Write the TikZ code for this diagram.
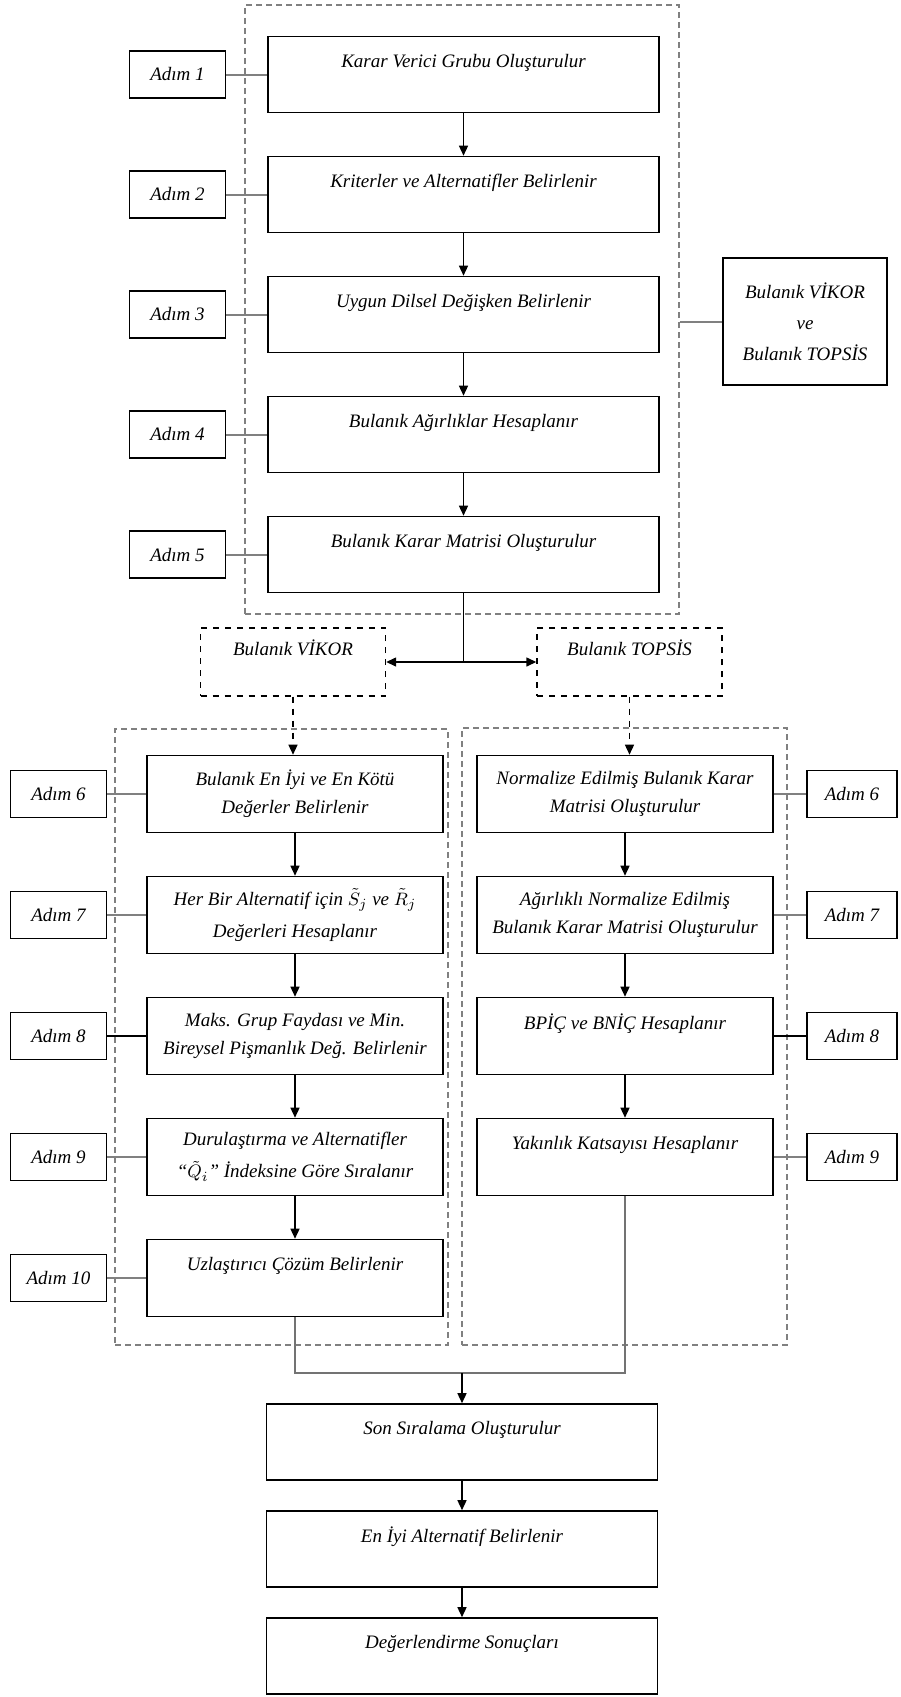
\documentclass[tikz,border=0pt]{standalone}
\usepackage{fontspec}
\setmainfont{Liberation Serif}
\usepackage{amsmath}
\usetikzlibrary{positioning,arrows.meta}

\begin{document}
\begin{tikzpicture}[x=0.5pt, y=-0.5pt, thick,
    every node/.style={font=\fontsize{9.5}{14}\selectfont\itshape, align=center},
    main/.style={draw, line width=0.8pt, minimum width=195.5pt, minimum height=38pt},
    colbox/.style={draw, line width=0.8pt, minimum width=148pt, minimum height=38.5pt},
    adim/.style={draw, line width=0.8pt, minimum width=48pt, minimum height=23.5pt},
    method/.style={draw, dashed, line width=0.7pt, minimum width=92.5pt, minimum height=34pt},
    group/.style={draw=black!50, dash pattern=on 3pt off 2pt, line width=0.7pt},
    arr/.style={-{Triangle[length=5pt,width=4.5pt]}, line width=0.7pt},
    link/.style={draw=black!50, line width=1pt},
    merge/.style={draw=black!55, line width=0.7pt}]
    \useasboundingbox (0,0) rectangle (900,1697);

    % dashed groups
    \node[group, minimum width=217pt, minimum height=304.5pt] (grpTop) at (462,309.5) {};
    \node[group, minimum width=166.5pt, minimum height=308pt] (grpVikor) at (281.5,1037) {};
    \node[group, minimum width=162.5pt, minimum height=308.5pt] (grpTopsis) at (624.5,1036.5) {};

    % common steps
    \node[main] (b1) at (463.5,74.5) {Karar Verici Grubu Oluşturulur\\ \mbox{}};
    \node[main] (b2) [below of=b1, node distance=60pt] {Kriterler ve Alternatifler Belirlenir\\ \mbox{}};
    \node[main] (b3) [below of=b2, node distance=60pt] {Uygun Dilsel Değişken Belirlenir\\ \mbox{}};
    \node[main] (b4) [below of=b3, node distance=60pt] {Bulanık Ağırlıklar Hesaplanır\\ \mbox{}};
    \node[main] (b5) [below of=b4, node distance=60pt] {Bulanık Karar Matrisi Oluşturulur\\ \mbox{}};

    \node[adim] (a1) [left of=b1, node distance=143pt] {Adım 1};
    \node[adim] (a2) [left of=b2, node distance=143pt] {Adım 2};
    \node[adim] (a3) [left of=b3, node distance=143pt] {Adım 3};
    \node[adim] (a4) [left of=b4, node distance=143pt] {Adım 4};
    \node[adim] (a5) [left of=b5, node distance=143pt] {Adım 5};

    \node[draw, line width=0.8pt, minimum width=82pt, minimum height=63.5pt,
          font=\fontsize{9.5}{15.5}\selectfont\itshape] (both) at (805,321.5)
          {Bulanık VİKOR\\ ve\\ Bulanık TOPSİS};

    % methods
    \node[method] (vikor) at (293,662) {Bulanık VİKOR\\ \mbox{}};
    \node[method] (topsis) at (629.5,662) {Bulanık TOPSİS\\ \mbox{}};

    % fuzzy VIKOR
    \node[colbox] (l6) at (295,794) {Bulanık En İyi ve En Kötü\\ Değerler Belirlenir};
    \node[colbox] (l7) [below of=l6, node distance=60.5pt] {Her Bir Alternatif için $\tilde{S}_j$ ve $\tilde{R}_j$\\[2pt] Değerleri Hesaplanır};
    \node[colbox] (l8) [below of=l7, node distance=60.5pt] {Maks. Grup Faydası ve Min.\\ Bireysel Pişmanlık Değ. Belirlenir};
    \node[colbox] (l9) [below of=l8, node distance=60.5pt] {Durulaştırma ve Alternatifler\\[2pt] “$\tilde{Q}_i$” İndeksine Göre Sıralanır};
    \node[colbox] (l10) [below of=l9, node distance=60.5pt] {Uzlaştırıcı Çözüm Belirlenir\\ \mbox{}};

    \node[adim] (la6) [left of=l6, node distance=118.25pt] {Adım 6};
    \node[adim] (la7) [left of=l7, node distance=118.25pt] {Adım 7};
    \node[adim] (la8) [left of=l8, node distance=118.25pt] {Adım 8};
    \node[adim] (la9) [left of=l9, node distance=118.25pt] {Adım 9};
    \node[adim] (la10) [left of=l10, node distance=118.25pt] {Adım 10};

    % fuzzy TOPSIS
    \node[colbox] (r6) at (625,794) {Normalize Edilmiş Bulanık Karar\\ Matrisi Oluşturulur};
    \node[colbox] (r7) [below of=r6, node distance=60.5pt] {Ağırlıklı Normalize Edilmiş\\ Bulanık Karar Matrisi Oluşturulur};
    \node[colbox] (r8) [below of=r7, node distance=60.5pt] {BPİÇ ve BNİÇ Hesaplanır\\ \mbox{}};
    \node[colbox] (r9) [below of=r8, node distance=60.5pt] {Yakınlık Katsayısı Hesaplanır\\ \mbox{}};

    \node[adim, minimum width=45pt] (ra6) [right of=r6, node distance=113.5pt] {Adım 6};
    \node[adim, minimum width=45pt] (ra7) [right of=r7, node distance=113.5pt] {Adım 7};
    \node[adim, minimum width=45pt] (ra8) [right of=r8, node distance=113.5pt] {Adım 8};
    \node[adim, minimum width=45pt] (ra9) [right of=r9, node distance=113.5pt] {Adım 9};

    % final steps
    \node[main] (f1) at (462,1442) {Son Sıralama Oluşturulur\\ \mbox{}};
    \node[main] (f2) [below of=f1, node distance=53.5pt] {En İyi Alternatif Belirlenir\\ \mbox{}};
    \node[main] (f3) [below of=f2, node distance=53.5pt] {Değerlendirme Sonuçları\\ \mbox{}};

    % arrows
    \draw[arr] (b1) -- (b2);
    \draw[arr] (b2) -- (b3);
    \draw[arr] (b3) -- (b4);
    \draw[arr] (b4) -- (b5);
    \coordinate (split) at (b5.south |- vikor.east);
    \draw[line width=0.7pt] (b5.south) -- (split);
    \draw[arr] (split) -- (vikor.east);
    \draw[arr] (split) -- (topsis.west);
    \draw[arr, dashed] (vikor.south) -- (vikor.south |- l6.north);
    \draw[arr, dashed] (topsis.south) -- (topsis.south |- r6.north);

    \draw[arr] (l6) -- (l7);
    \draw[arr] (l7) -- (l8);
    \draw[arr] (l8) -- (l9);
    \draw[arr] (l9) -- (l10);
    \draw[arr] (r6) -- (r7);
    \draw[arr] (r7) -- (r8);
    \draw[arr] (r8) -- (r9);

    \coordinate (meet) at (462,1373);
    \draw[merge] (l10.south) |- (meet) -| (r9.south);
    \draw[arr] (meet) -- (f1.north);
    \draw[arr] (f1) -- (f2);
    \draw[arr] (f2) -- (f3);

    % step links
    \draw[link] (a1) -- (b1);
    \draw[link] (a2) -- (b2);
    \draw[link] (a3) -- (b3);
    \draw[link] (a4) -- (b4);
    \draw[link] (a5) -- (b5);
    \draw[link] (grpTop.east |- both.west) -- (both.west);
    \draw[link] (la6) -- (l6);
    \draw[link] (la7) -- (l7);
    \draw[line width=0.7pt] (la8) -- (l8);
    \draw[link] (la9) -- (l9);
    \draw[link] (la10) -- (l10);
    \draw[link] (r6) -- (ra6);
    \draw[link] (r7) -- (ra7);
    \draw[line width=0.7pt] (r8) -- (ra8);
    \draw[link] (r9) -- (ra9);
\end{tikzpicture}
\end{document}
